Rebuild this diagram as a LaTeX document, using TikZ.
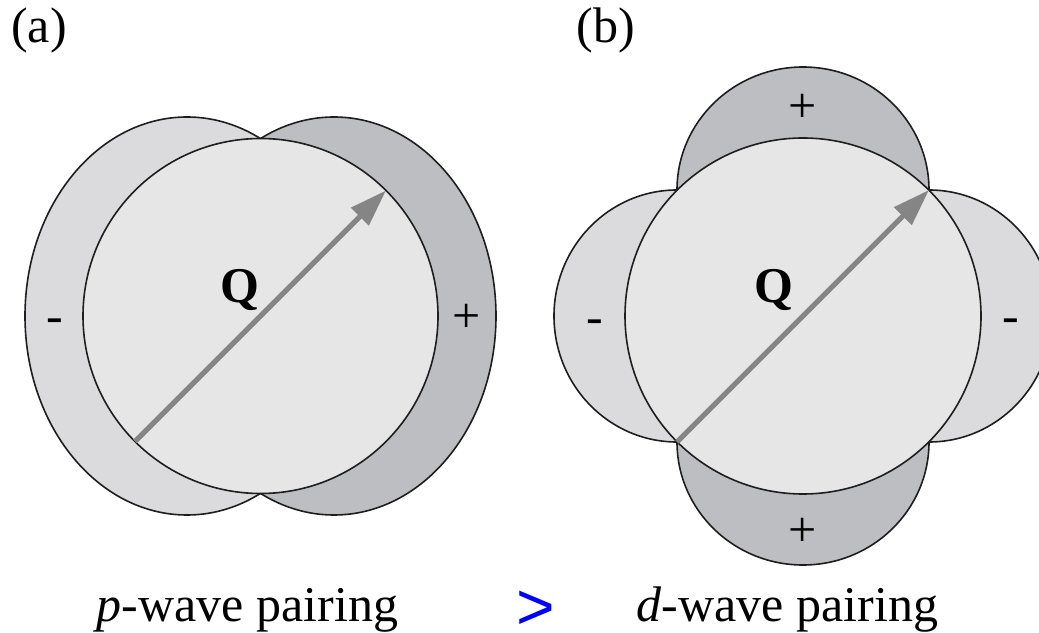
\documentclass[tikz,border=0pt]{standalone}
\usepackage{fontspec}
\setmainfont{Liberation Serif}
\newfontfamily\sansgt{Liberation Sans}
\usetikzlibrary{arrows.meta}
\definecolor{innerfill}{HTML}{E6E6E6}
\definecolor{lightlobe}{HTML}{DBDBDD}
\definecolor{darklobe}{HTML}{BDBEC1}
\definecolor{edgecol}{HTML}{1E1E1E}
\definecolor{arrowcol}{HTML}{858585}
\begin{document}
\begin{tikzpicture}[x=1pt,y=1pt,
  outline/.style={draw=edgecol, line width=1.6pt},
  lbl/.style={font=\fontsize{50}{60}\selectfont, inner sep=0pt, anchor=base},
  qvec/.style={draw=arrowcol, line width=5pt, -{Triangle[length=37pt,width=24pt]}}]
\useasboundingbox (0,0) rectangle (1039,632);
\clip (0,0) rectangle (1039,632);
% ---------- (a) p-wave ----------
\path[outline, fill=lightlobe] (187,316) ellipse [x radius=162pt, y radius=199pt];
\path[outline, fill=darklobe] (334,316) ellipse [x radius=162pt, y radius=199pt];
\path[outline, fill=innerfill] (260.5,316) circle [radius=177.5pt];
\coordinate (qa0) at (135,190.5);
\coordinate (qa1) at (386,441.5);
\draw[qvec] (qa0) -- (qa1);
\node[lbl] (laba) at (39,589) {(a)};
\node[lbl] (Qa) at (240,329) {\textbf{Q}};
\node[lbl] (minusa) at (55,299) {-};
\node[lbl] (plusa) at (467,299) {+};
\node[lbl] (capa) at (247.5,10) {\textit{p}-wave pairing};
% ---------- (b) d-wave ----------
\path[outline, fill=darklobe] (803,442) ellipse [x radius=126pt, y radius=123pt];
\path[outline, fill=darklobe] (803,190) ellipse [x radius=126pt, y radius=123pt];
\path[outline, fill=lightlobe] (677,316) ellipse [x radius=123pt, y radius=126pt];
\path[outline, fill=lightlobe] (929,316) ellipse [x radius=123pt, y radius=126pt];
\path[outline, fill=innerfill] (803,316) circle [radius=178pt];
\coordinate (qb0) at (677,190);
\coordinate (qb1) at (929,442);
\draw[qvec] (qb0) -- (qb1);
\node[lbl] (labb) at (606,589) {(b)};
\node[lbl] (Qb) at (773.5,329) {\textbf{Q}};
\node[lbl] (plusbt) at (802.7,509.4) {+};
\node[lbl] (plusbb) at (802.7,85.4) {+};
\node[lbl] (minusbl) at (595,298) {-};
\node[lbl] (minusbr) at (1011,299) {-};
\node[lbl] (capb) at (787.5,10) {\textit{d}-wave pairing};
% ---------- comparison sign ----------
\node[font=\sansgt\fontsize{66}{78}\selectfont, text=blue, inner sep=0pt] (gt) at (535.5,21.5) {>};
\end{tikzpicture}
\end{document}
